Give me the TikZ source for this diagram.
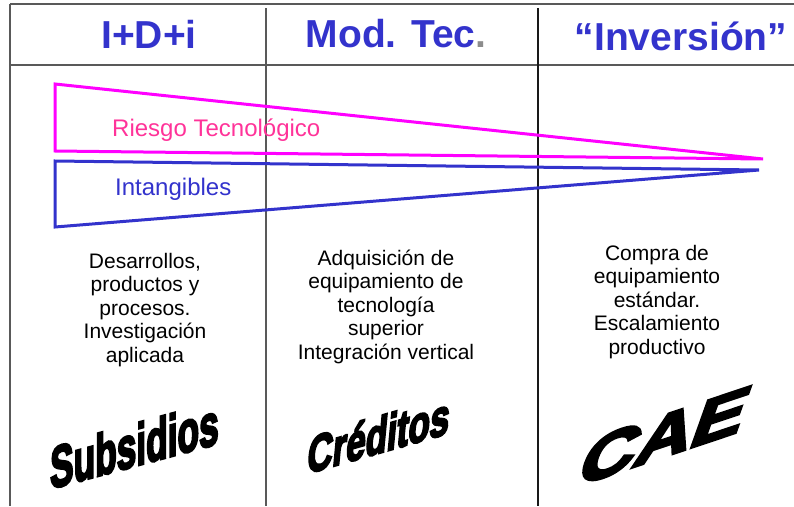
\documentclass[tikz,border=0pt]{standalone}
\usepackage{fontspec}
\setmainfont{Liberation Sans}
\newfontfamily\artfont{Liberation Sans}[BoldFeatures={FakeBold=4.5}]
\usetikzlibrary{positioning}
\definecolor{hdblue}{HTML}{3333CC}
\definecolor{wedgemag}{HTML}{FF00FF}
\definecolor{riskpink}{HTML}{FF3399}

\begin{document}
\begin{tikzpicture}[x=1pt, y=-1pt,
    frame/.style={line width=1.3pt, black!65},
    header/.style={anchor=base, inner sep=0pt, text=hdblue, font=\fontsize{39}{44}\selectfont\bfseries},
    body/.style={anchor=base, inner sep=0pt, align=center, font=\fontsize{21}{23.5}\selectfont},
    wedge/.style={line width=3pt, line join=miter},
    wedgelabel/.style={anchor=base west, inner sep=0pt, font=\fontsize{24}{28}\selectfont},
    art/.style={anchor=base west, inner sep=0pt, transform shape}]
    \useasboundingbox (0,0) rectangle (794,506);
    % table lines
    \draw[frame] (10,4) -- (794,4);
    \draw[frame] (10,4) -- (10,506);
    \draw[frame] (10,65) -- (794,65);
    \draw[frame] (266,8) -- (266,506);
    \draw[frame, black!90] (538,8) -- (538,506);
    % headers
    \node[header] (idi) at (149,48) {I+D+i};
    \node[header] (modtec) at (396,47) {Mod. Tec\textcolor{black!45}{.}};
    \node[header] (inv) at (681,50) {“Inversión”};
    % wedges
    \coordinate (rtip) at (763,159);
    \coordinate (itip) at (759,170);
    \draw[wedge, wedgemag] (rtip) -- (55,84) -- (55,151) -- cycle;
    \draw[wedge, hdblue] (itip) -- (55,161) -- (55,227) -- cycle;
    \node[wedgelabel, text=riskpink] (riesgo) at (112,136) {Riesgo Tecnológico};
    \node[wedgelabel, text=hdblue] (intang) at (115,195) {Intangibles};
    % column texts (base = last line)
    \node[body] (desc1) at (145,362) {Desarrollos,\\productos y\\procesos.\\Investigación\\aplicada};
    \node[body] (desc2) at (386,359) {Adquisición de\\equipamiento de\\tecnología\\superior\\Integración vertical};
    \node[body] (desc3) at (657,354) {Compra de\\equipamiento\\estándar.\\Escalamiento\\productivo};
    % instruments
    \node[art, cm={0.63,0.17,0,1.05,(50,489)}, font=\fontsize{56}{60}\artfont\bfseries] (subs) at (0,0) {Subsidios};
    \node[art, cm={0.7,0.2,0.1,1.05,(306,474)}, font=\fontsize{50}{54}\artfont\bfseries] (cred) at (0,0) {Créditos};
    \node[art, cm={1.34,0.45,0.42,1.18,(574,487)}, font=\fontsize{58}{62}\artfont\bfseries] (cae) at (0,0) {CAE};
\end{tikzpicture}
\end{document}
